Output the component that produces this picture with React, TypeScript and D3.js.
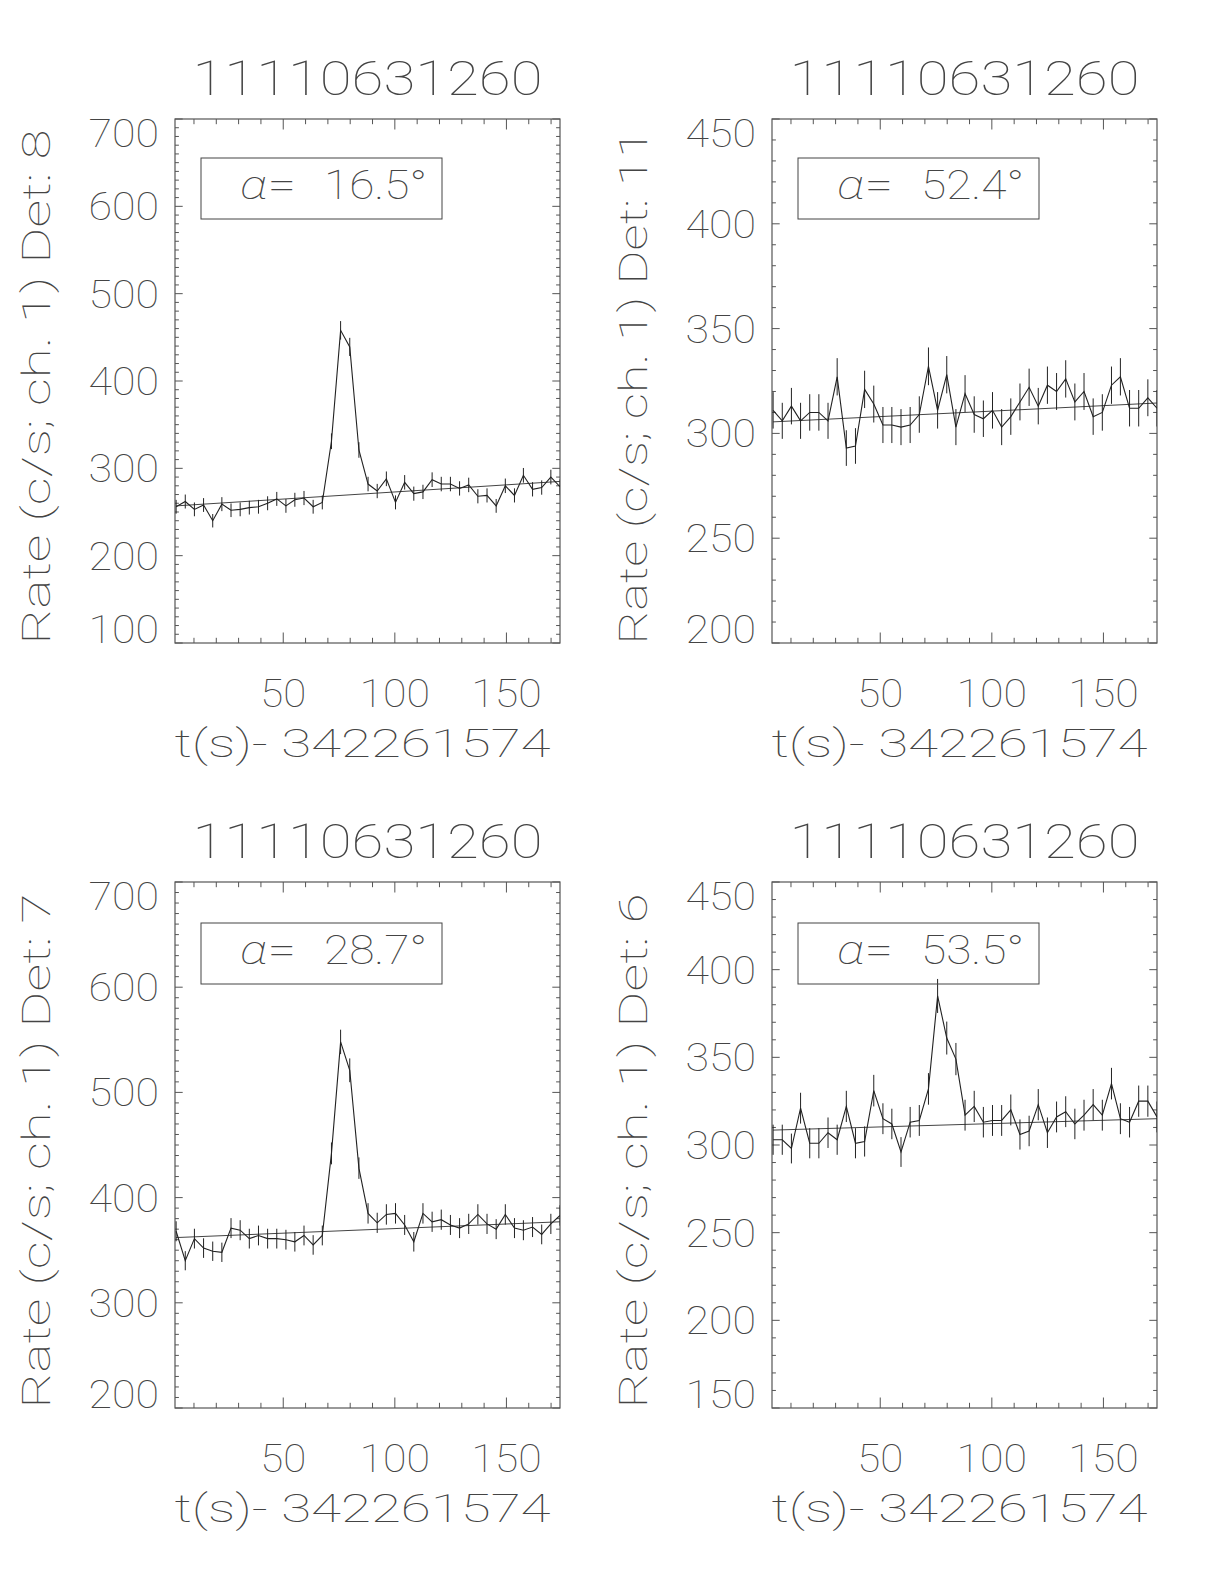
import React from 'react';
import * as d3 from 'd3';

const W = 1224;
const H = 1584;
const FONT = "Roboto, Lato, 'DejaVu Sans', sans-serif";
const INK = '#222';
const TXT = '#444';
const FW = 100;

// time bin centres (s after 342261574)
const times = [2.0, 6.1, 10.2, 14.3, 18.4, 22.5, 26.6, 30.7, 34.8, 38.9, 43.0, 47.1, 51.2, 55.2, 59.3, 63.4, 67.5, 71.6, 75.7, 79.8, 83.9, 88.0, 92.1, 96.2, 100.3, 104.4, 108.5, 112.6, 116.7, 120.8, 124.9, 129.0, 133.1, 137.2, 141.3, 145.4, 149.5, 153.6, 157.6, 161.7, 165.8, 169.9, 174.0];

const titleText = '11110631260';
const xTitle = 't(s)- 342261574';
const xDomain = [1.5, 174];
const xTicks = [50, 100, 150];

// Det 8
const det8Rate = [256, 262, 253, 258, 240, 259, 252, 253, 255, 256, 260, 265, 257, 264, 266, 256, 261, 331, 458, 439, 321, 282, 274, 288, 261, 284, 271, 273, 287, 282, 282, 277, 281, 268, 269, 257, 280, 269, 292, 276, 278, 290, 279];
const det8Err = [7.9, 8.0, 7.9, 7.9, 7.7, 8.0, 7.8, 7.9, 7.9, 7.9, 8.0, 8.0, 7.9, 8.0, 8.1, 7.9, 8.0, 9.0, 10.6, 10.4, 8.9, 8.3, 8.2, 8.4, 8.0, 8.3, 8.1, 8.2, 8.4, 8.3, 8.3, 8.2, 8.3, 8.1, 8.1, 7.9, 8.3, 8.1, 8.4, 8.2, 8.2, 8.4, 8.3];
const det8Fit = [257, 285];

// Det 11
const det11Rate = [311, 306, 313, 306, 310, 310, 306, 327, 293, 294, 321, 314, 304, 304, 303, 304, 309, 332, 311, 328, 303, 319, 309, 307, 311, 303, 308, 315, 322, 313, 323, 320, 326, 315, 320, 308, 310, 323, 327, 312, 312, 317, 312];
const det11Err = [8.7, 8.6, 8.7, 8.6, 8.7, 8.7, 8.6, 8.9, 8.5, 8.5, 8.9, 8.8, 8.6, 8.6, 8.6, 8.6, 8.7, 9.0, 8.7, 8.9, 8.6, 8.8, 8.7, 8.7, 8.7, 8.6, 8.7, 8.8, 8.9, 8.7, 8.9, 8.8, 8.9, 8.8, 8.8, 8.7, 8.7, 8.9, 8.9, 8.7, 8.7, 8.8, 8.7];
const det11Fit = [305.5, 314.5];

// Det 7
const det7Rate = [368, 340, 361, 352, 349, 348, 371, 369, 361, 364, 361, 361, 360, 358, 364, 355, 364, 442, 548, 521, 428, 385, 376, 384, 385, 374, 358, 385, 377, 379, 374, 371, 375, 384, 375, 370, 384, 371, 369, 372, 365, 375, 383];
const det7Err = [9.5, 9.1, 9.4, 9.3, 9.2, 9.2, 9.5, 9.5, 9.4, 9.4, 9.4, 9.4, 9.4, 9.3, 9.4, 9.3, 9.4, 10.4, 11.6, 11.3, 10.2, 9.7, 9.6, 9.7, 9.7, 9.5, 9.3, 9.7, 9.6, 9.6, 9.5, 9.5, 9.6, 9.7, 9.6, 9.5, 9.7, 9.5, 9.5, 9.5, 9.4, 9.6, 9.7];
const det7Fit = [362, 377];

// Det 6
const det6Rate = [303, 303, 298, 321, 301, 301, 307, 303, 322, 301, 302, 331, 315, 312, 296, 313, 314, 332, 385, 361, 349, 317, 322, 313, 314, 314, 320, 306, 308, 323, 307, 316, 319, 312, 317, 323, 317, 335, 315, 313, 325, 325, 316];
const det6Err = [8.6, 8.6, 8.5, 8.8, 8.6, 8.6, 8.7, 8.6, 8.9, 8.6, 8.6, 9.0, 8.8, 8.7, 8.5, 8.7, 8.8, 9.0, 9.7, 9.4, 9.2, 8.8, 8.9, 8.7, 8.8, 8.8, 8.8, 8.6, 8.7, 8.9, 8.7, 8.8, 8.8, 8.7, 8.8, 8.9, 8.8, 9.0, 8.8, 8.7, 8.9, 8.9, 8.8];
const det6Fit = [308.5, 315];

const detNames = ['8', '11', '7', '6'];
const alphas = ['16.5', '52.4', '28.7', '53.5'];
const yDomains = [[100, 700], [200, 450], [200, 700], [150, 450]];
const yMajorSteps = [100, 50, 100, 50];
const rates = [det8Rate, det11Rate, det7Rate, det6Rate];
const errs = [det8Err, det11Err, det7Err, det6Err];
const fits = [det8Fit, det11Fit, det7Fit, det6Fit];

const frames = [
  { left: 175, top: 119, w: 385, h: 524, boxDy: 39 },
  { left: 772, top: 119, w: 385, h: 524, boxDy: 39 },
  { left: 175, top: 882, w: 385, h: 526, boxDy: 41 },
  { left: 772, top: 882, w: 385, h: 526, boxDy: 41 },
];

function Panel({ idx }: { idx: number }) {
  const f = frames[idx];
  const rate = rates[idx];
  const err = errs[idx];
  const fit = fits[idx];
  const yd = yDomains[idx];
  const step = yMajorSteps[idx];
  const x = d3.scaleLinear().domain(xDomain).range([f.left, f.left + f.w]);
  const y = d3.scaleLinear().domain(yd).range([f.top + f.h, f.top]);
  const line = d3.line<number>().x((_, i) => x(times[i])).y((d) => y(d));
  const fitLine = d3.line<number>().x((_, i) => x(i === 0 ? times[0] : times[times.length - 1])).y((d) => y(d));
  const clipId = `clip${idx}`;
  const bottom = f.top + f.h;
  const right = f.left + f.w;

  const xMinor = d3.range(10, xDomain[1], 10);
  const yMinor = d3.range(yd[0], yd[1] + 0.001, 10);
  const yMajor = d3.range(yd[0], yd[1] + 0.001, step);
  const xMajLen = 10.5, xMinLen = 5.2, yMajLen = 7.7, yMinLen = 3.9;

  const labelHalf = 14;
  const tl = (s: string, per: number) => per * s.length - 3;
  const bx = f.left + 26;
  const by = f.top + f.boxDy;

  return (
    <g>
      <defs>
        <clipPath id={clipId}>
          <rect x={f.left} y={f.top} width={f.w} height={f.h} />
        </clipPath>
      </defs>
      <text x={f.left + f.w / 2} y={f.top - 24} fontSize={49} textAnchor="middle" textLength={350}
        lengthAdjust="spacingAndGlyphs" fill={TXT} fontFamily={FONT} fontWeight={FW}>{titleText}</text>
      <rect x={f.left} y={f.top} width={f.w} height={f.h} fill="none" stroke="#555" strokeWidth={1.2} />
      {xMinor.map((v) => {
        const isMaj = xTicks.includes(v);
        const len = isMaj ? xMajLen : xMinLen;
        return (
          <g key={`xt${v}`} stroke="#555" strokeWidth={1}>
            <line x1={x(v)} x2={x(v)} y1={bottom} y2={bottom - len} />
            <line x1={x(v)} x2={x(v)} y1={f.top} y2={f.top + len} />
          </g>
        );
      })}
      {yMinor.map((v) => {
        const isMaj = yMajor.some((m) => Math.abs(m - v) < 1e-6);
        const len = isMaj ? yMajLen : yMinLen;
        return (
          <g key={`yt${v}`} stroke="#555" strokeWidth={1}>
            <line x1={f.left} x2={f.left + len} y1={y(v)} y2={y(v)} />
            <line x1={right} x2={right - len} y1={y(v)} y2={y(v)} />
          </g>
        );
      })}
      {yMajor.map((v) => {
        const cy = Math.min(Math.max(y(v), f.top + labelHalf), bottom - labelHalf);
        const s = String(v);
        return (
          <text key={`yl${v}`} x={f.left - 16} y={cy + labelHalf} fontSize={39} textAnchor="end"
            textLength={tl(s, 24.5)} lengthAdjust="spacingAndGlyphs" fill={TXT} fontFamily={FONT} fontWeight={FW}>{s}</text>
        );
      })}
      {xTicks.map((v) => {
        const s = String(v);
        return (
          <text key={`xl${v}`} x={x(v)} y={bottom + 64} fontSize={39} textAnchor="middle"
            textLength={tl(s, 24.5)} lengthAdjust="spacingAndGlyphs" fill={TXT} fontFamily={FONT} fontWeight={FW}>{s}</text>
        );
      })}
      <text x={f.left + f.w / 2 - 5} y={bottom + 114} fontSize={39} textAnchor="middle" textLength={376}
        lengthAdjust="spacingAndGlyphs" fill={TXT} fontFamily={FONT} fontWeight={FW}>{xTitle}</text>
      <text transform={`translate(${f.left - 125},${f.top + f.h / 2 + 6}) rotate(-90)`} fontSize={39} textAnchor="middle"
        textLength={515} lengthAdjust="spacingAndGlyphs" fill={TXT} fontFamily={FONT} fontWeight={FW}>
        {`Rate (c/s; ch. 1) Det: ${detNames[idx]}`}
      </text>
      <g clipPath={`url(#${clipId})`}>
        <path d={fitLine(fit) || ''} fill="none" stroke="#444" strokeWidth={1} />
        {rate.map((r, i) => (
          <line key={`e${i}`} x1={x(times[i])} x2={x(times[i])} y1={y(r - err[i])} y2={y(r + err[i])}
            stroke={INK} strokeWidth={1} />
        ))}
        <path d={line(rate) || ''} fill="none" stroke={INK} strokeWidth={1.1} />
      </g>
      <rect x={bx} y={by} width={241} height={61} fill="none" stroke="#444" strokeWidth={1} />
      <text x={bx + 39} y={by + 41} fontSize={40} textLength={56}
        lengthAdjust="spacingAndGlyphs" fill={TXT} fontFamily={FONT} fontWeight={FW}>
        <tspan fontStyle="italic">α</tspan>=
      </text>
      <text x={bx + 123} y={by + 41} fontSize={40} textLength={103}
        lengthAdjust="spacingAndGlyphs" fill={TXT} fontFamily={FONT} fontWeight={FW}>
        {`${alphas[idx]}°`}
      </text>
    </g>
  );
}

export default function App() {
  return (
    <svg width={W} height={H} style={{ position: 'absolute', left: 0, top: 0, background: 'white' }}>
      <rect x={0} y={0} width={W} height={H} fill="white" />
      {[0, 1, 2, 3].map((i) => (
        <Panel key={i} idx={i} />
      ))}
    </svg>
  );
}
